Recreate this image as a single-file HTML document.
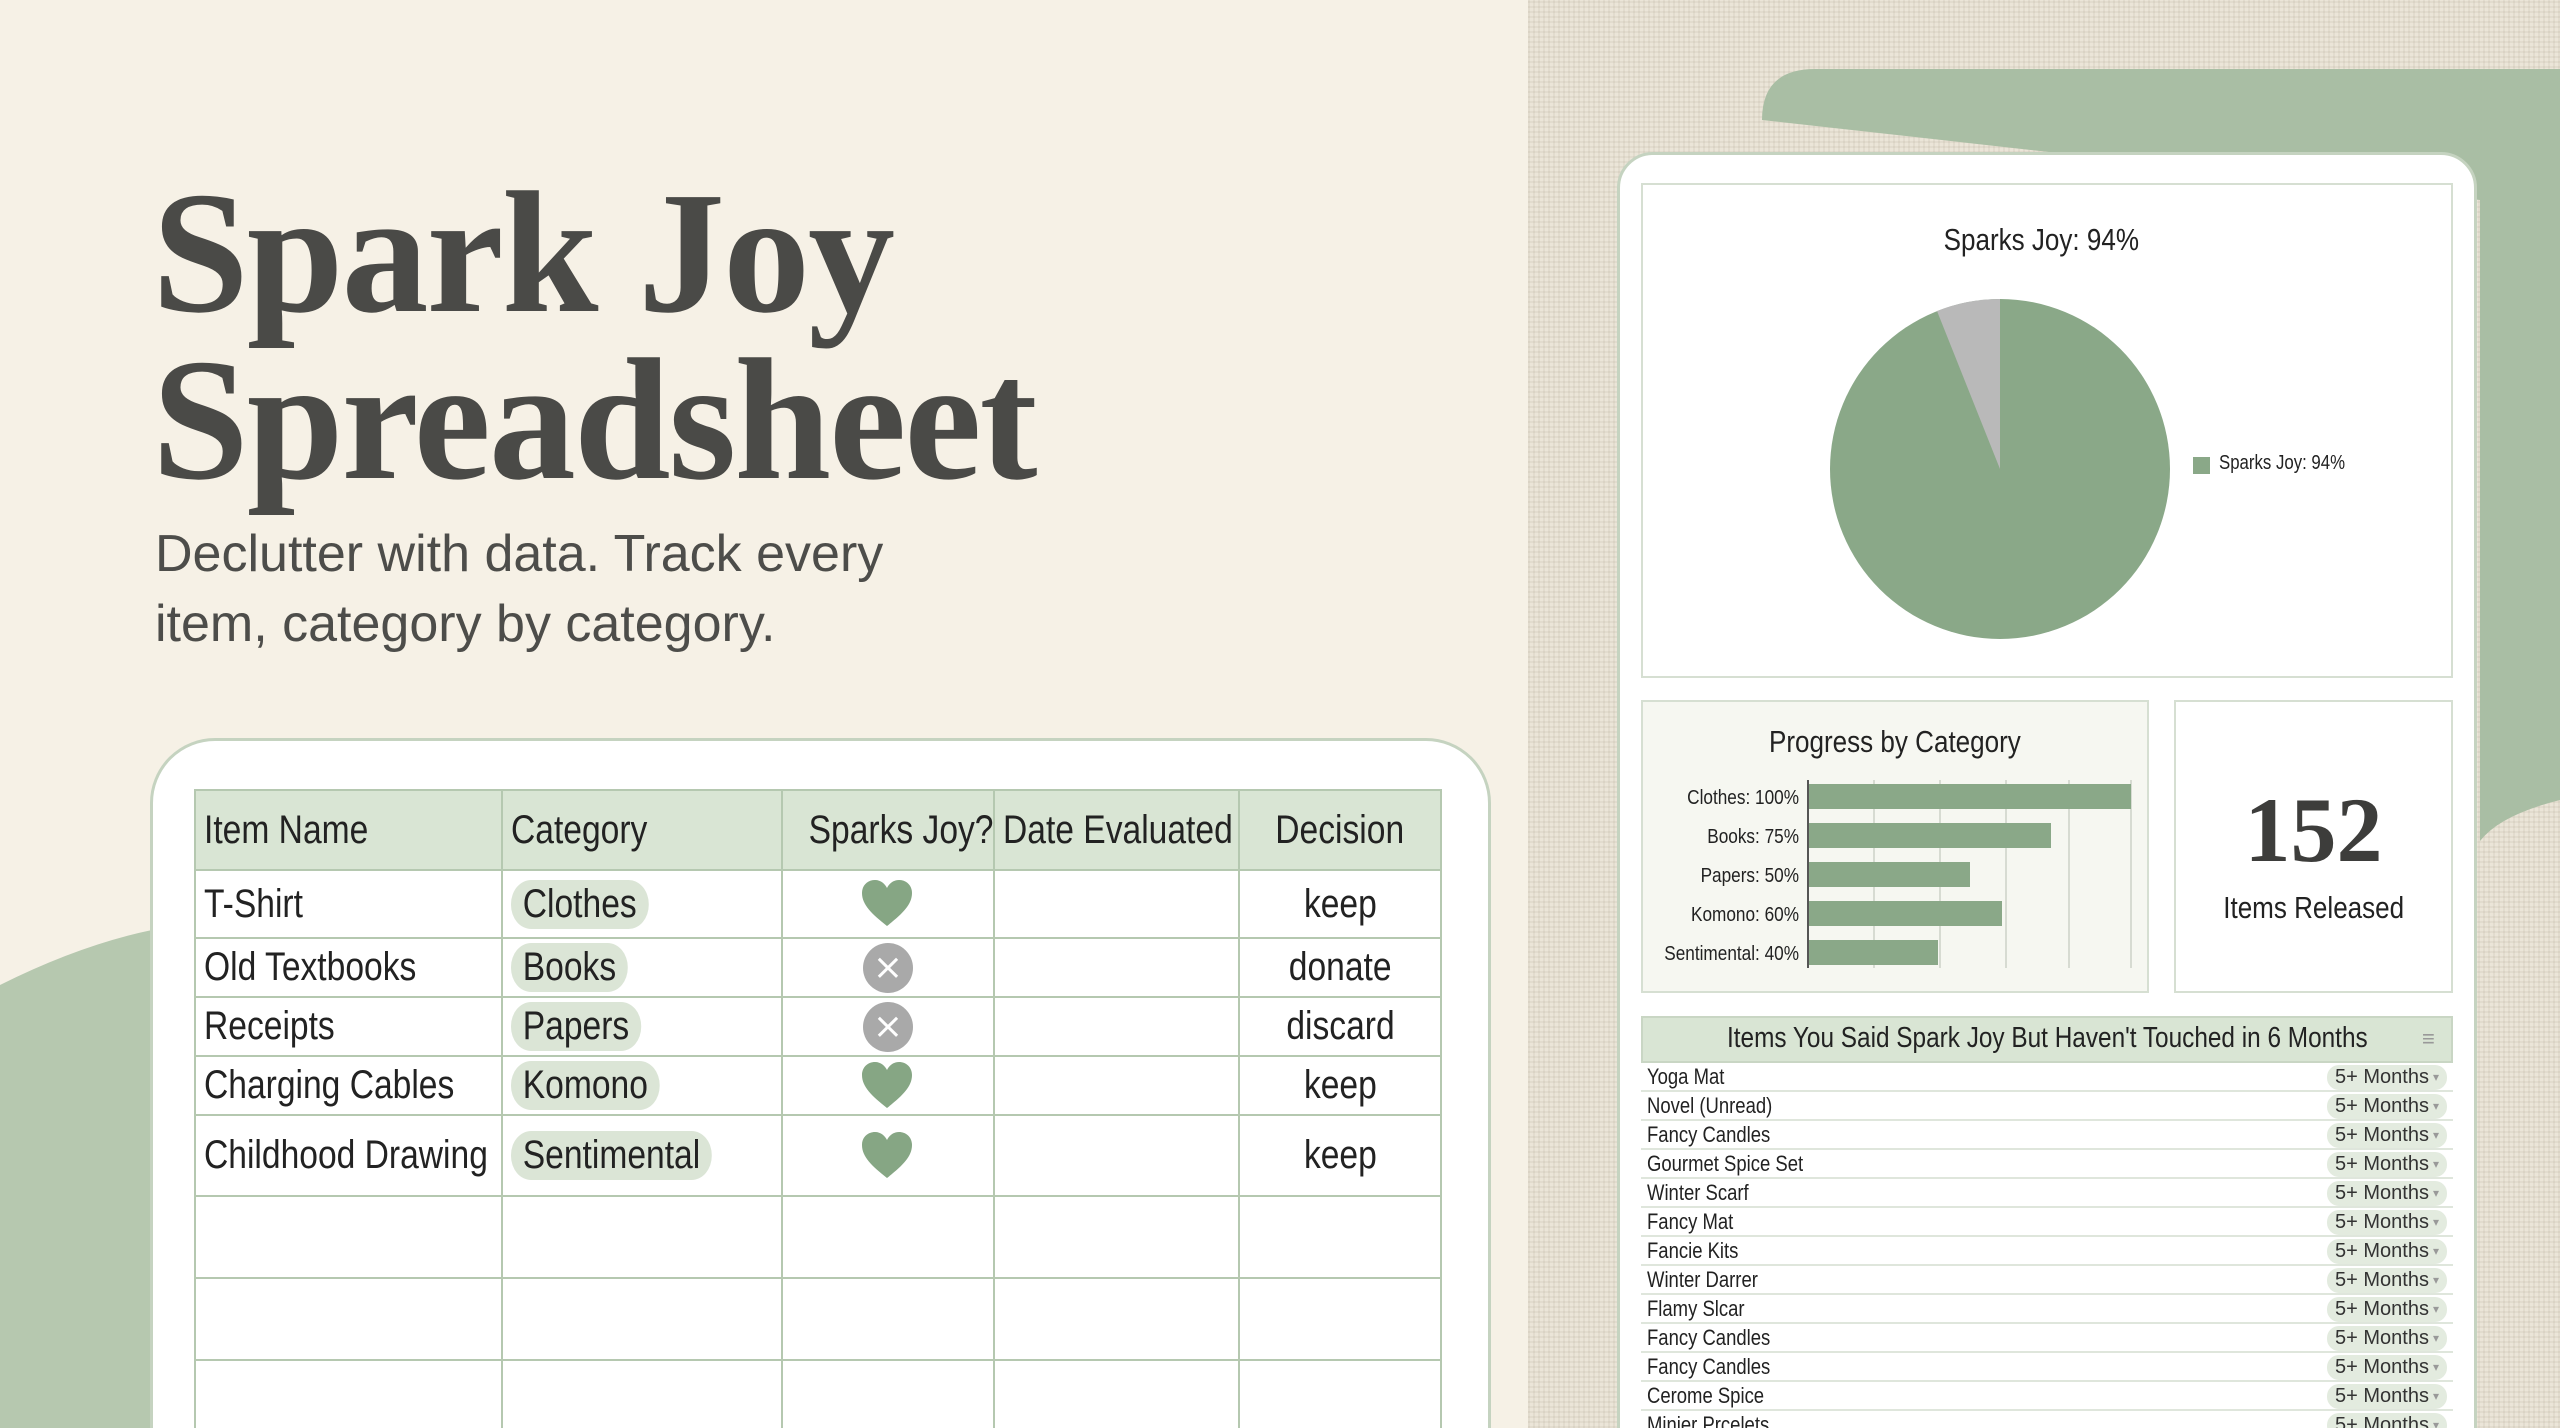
<!DOCTYPE html>
<html style="width:2560px;height:1428px;overflow:hidden"><head><meta charset="utf-8">
<style>
*{margin:0;padding:0;box-sizing:border-box}
body{width:2560px;height:1428px;overflow:hidden;position:relative;background:#f6f1e6;font-family:"Liberation Sans",sans-serif;color:#222}
.abs{position:absolute}
.n{display:inline-block;transform:scaleX(.84);transform-origin:left center;white-space:nowrap}
.nc{display:inline-block;transform:scaleX(.84);transform-origin:center center;white-space:nowrap}
.linen{left:1528px;top:0;width:1032px;height:1428px;background-color:#ebe5d8;background-image:repeating-linear-gradient(0deg,rgba(160,150,130,.12) 0 2px,transparent 2px 5px),repeating-linear-gradient(90deg,rgba(160,150,130,.12) 0 2px,transparent 2px 5px)}
.title{left:152px;font-family:"Liberation Serif",serif;font-weight:bold;color:#4a4a47;font-size:174px;line-height:1;letter-spacing:-2px;white-space:nowrap}
.sub{left:155px;font-family:"Liberation Sans",sans-serif;color:#4d4d4a;font-size:52px;white-space:nowrap}
.card{background:#fff;border:3px solid #c9d6c4}
table{border-collapse:collapse;position:absolute;left:194px;top:789px;width:1248px;font-size:40px;color:#222;table-layout:fixed}
td{border:2px solid #b5c8b0;padding:0 8px;vertical-align:middle;white-space:nowrap;overflow:hidden}
th{background:#d9e5d4;border:2px solid #b5c8b0;font-weight:normal;text-align:left;padding:0 8px;height:80px;white-space:nowrap}
.pill{display:inline-block;background:#dbe5d6;border-radius:24px;padding:2px 14px;transform:scaleX(.84);transform-origin:left center}
.c{text-align:center}
.x{display:inline-block;width:50px;height:50px;border-radius:50%;background:#a9a9a9;color:#fff;font-size:36px;line-height:50px;text-align:center;font-family:"DejaVu Sans",sans-serif;vertical-align:middle}
.row{position:absolute;left:1641px;width:812px;height:29px;border-bottom:2px solid #dfe6dc;font-size:22px;line-height:28px;padding-left:6px;background:#fff}
.tag{position:absolute;right:6px;top:2px;width:120px;height:25px;background:#e3ebdf;border-radius:12px;font-size:20px;line-height:25px;padding-left:8px;color:#333}
.tag:after{content:"▾";position:absolute;right:8px;font-size:12px;color:#999}
</style></head><body>
<div class="abs linen"></div>
<svg class="abs" style="left:0;top:0" width="2560" height="1428">
<path d="M1762 120 Q1762 69 1815 69 L2560 69 L2560 800 Q2500 815 2480 841 L2480 200 Z" fill="#a9bea4"/>
<path d="M0 985 Q80 945 152 930 L152 1428 L0 1428 Z" fill="#b6c8af"/>
</svg>
<div class="abs title" style="top:166px">Spark Joy</div>
<div class="abs title" style="top:333px">Spreadsheet</div>
<div class="abs sub" style="top:524px">Declutter with data. Track every</div>
<div class="abs sub" style="top:594px">item, category by category.</div>

<div class="abs card" style="left:150px;top:738px;width:1341px;height:760px;border-radius:65px;border-color:#c5d3c0"></div>
<svg width="0" height="0" style="position:absolute"><defs><path id="h" d="M25 46 C10 34 0 25 0 13 C0 5 6 0 13 0 C19 0 23 4 25 8 C27 4 31 0 37 0 C44 0 50 5 50 13 C50 25 40 34 25 46 Z" fill="#86a684"/></defs></svg>
<table>
<colgroup><col style="width:307px"><col style="width:280px"><col style="width:212px"><col style="width:245px"><col></colgroup>
<tr><th><span class="n">Item Name</span></th><th><span class="n">Category</span></th><th class="c" style="text-align:center"><span class="nc">Sparks Joy?</span></th><th><span class="n">Date Evaluated</span></th><th style="text-align:center"><span class="nc">Decision</span></th></tr>
<tr style="height:68px"><td><span class="n">T-Shirt</span></td><td><span class="pill">Clothes</span></td><td class="c"><svg width="52" height="48" style="vertical-align:middle"><use href="#h"/></svg></td><td></td><td class="c"><span class="nc">keep</span></td></tr>
<tr style="height:59px"><td><span class="n">Old Textbooks</span></td><td><span class="pill">Books</span></td><td class="c"><span class="x">×</span></td><td></td><td class="c"><span class="nc">donate</span></td></tr>
<tr style="height:59px"><td><span class="n">Receipts</span></td><td><span class="pill">Papers</span></td><td class="c"><span class="x">×</span></td><td></td><td class="c"><span class="nc">discard</span></td></tr>
<tr style="height:59px"><td><span class="n">Charging Cables</span></td><td><span class="pill">Komono</span></td><td class="c"><svg width="52" height="48" style="vertical-align:middle"><use href="#h"/></svg></td><td></td><td class="c"><span class="nc">keep</span></td></tr>
<tr style="height:81px"><td><span class="n">Childhood Drawing</span></td><td><span class="pill">Sentimental</span></td><td class="c"><svg width="52" height="48" style="vertical-align:middle"><use href="#h"/></svg></td><td></td><td class="c"><span class="nc">keep</span></td></tr>
<tr style="height:82px"><td></td><td></td><td></td><td></td><td></td></tr>
<tr style="height:82px"><td></td><td></td><td></td><td></td><td></td></tr>
<tr style="height:82px"><td></td><td></td><td></td><td></td><td></td></tr>
</table>

<div class="abs card" style="left:1617px;top:152px;width:860px;height:1320px;border-radius:36px;border-color:#c5d3c0"></div>
<div class="abs" style="left:1641px;top:183px;width:812px;height:495px;border:2px solid #d6dfd2;background:#fff"></div>
<div class="abs" style="left:1641px;top:222px;width:800px;text-align:center;font-size:31px"><span class="nc">Sparks Joy: 94%</span></div>
<svg class="abs" style="left:1820px;top:290px" width="360" height="360">
<circle cx="180" cy="179" r="170" fill="#8aa888"/>
<path d="M180 179 L180 9 A170 170 0 0 0 117 21 Z" fill="#b9b9b9"/>
</svg>
<div class="abs" style="left:2193px;top:457px;width:17px;height:17px;background:#8aa888"></div>
<div class="abs" style="left:2219px;top:452px;font-size:20px"><span class="n">Sparks Joy: 94%</span></div>

<div class="abs" style="left:1641px;top:700px;width:508px;height:293px;border:2px solid #d6dfd2;background:#f6f7f1"></div>
<div class="abs" style="left:1641px;top:724px;width:508px;text-align:center;font-size:31px"><span class="nc">Progress by Category</span></div>
<svg class="abs" style="left:1641px;top:700px" width="508" height="293">
<g stroke="#d7dbd2" stroke-width="2"><line x1="233" y1="80" x2="233" y2="268"/><line x1="299" y1="80" x2="299" y2="268"/><line x1="365" y1="80" x2="365" y2="268"/><line x1="428" y1="80" x2="428" y2="268"/><line x1="490" y1="80" x2="490" y2="268"/></g>
<g fill="#8aa888"><rect x="167" y="84" width="323" height="25"/><rect x="167" y="123" width="243" height="25"/><rect x="167" y="162" width="162" height="25"/><rect x="167" y="201" width="194" height="25"/><rect x="167" y="240" width="130" height="25"/></g>
<line x1="167" y1="80" x2="167" y2="268" stroke="#555" stroke-width="2"/>
<g font-family="Liberation Sans,sans-serif" font-size="20" text-anchor="end" fill="#222" transform="translate(158 0) scale(.86 1) translate(-158 0)">
<text x="158" y="104">Clothes: 100%</text><text x="158" y="143">Books: 75%</text><text x="158" y="182">Papers: 50%</text><text x="158" y="221">Komono: 60%</text><text x="158" y="260">Sentimental: 40%</text></g>
</svg>

<div class="abs" style="left:2174px;top:700px;width:279px;height:293px;border:2px solid #d6dfd2;background:#fff"></div>
<div class="abs" style="left:2174px;top:784px;width:279px;text-align:center;font-family:'Liberation Serif',serif;font-weight:bold;font-size:92px;color:#3d3d3b;line-height:1">152</div>
<div class="abs" style="left:2174px;top:890px;width:279px;text-align:center;font-size:31px"><span class="nc">Items Released</span></div>

<div class="abs" style="left:1641px;top:1016px;width:812px;height:47px;background:#d9e5d4;border:2px solid #c9d6c4"></div>
<div class="abs" style="left:1641px;top:1022px;width:812px;text-align:center;font-size:29px"><span class="nc">Items You Said Spark Joy But Haven't Touched in 6 Months</span></div>
<div class="abs" style="left:2422px;top:1026px;font-size:22px;color:#999">≡</div>
<div class="row" style="top:1063px"><span class="n">Yoga Mat</span><span class="tag">5+ Months</span></div>
<div class="row" style="top:1092px"><span class="n">Novel (Unread)</span><span class="tag">5+ Months</span></div>
<div class="row" style="top:1121px"><span class="n">Fancy Candles</span><span class="tag">5+ Months</span></div>
<div class="row" style="top:1150px"><span class="n">Gourmet Spice Set</span><span class="tag">5+ Months</span></div>
<div class="row" style="top:1179px"><span class="n">Winter Scarf</span><span class="tag">5+ Months</span></div>
<div class="row" style="top:1208px"><span class="n">Fancy Mat</span><span class="tag">5+ Months</span></div>
<div class="row" style="top:1237px"><span class="n">Fancie Kits</span><span class="tag">5+ Months</span></div>
<div class="row" style="top:1266px"><span class="n">Winter Darrer</span><span class="tag">5+ Months</span></div>
<div class="row" style="top:1295px"><span class="n">Flamy Slcar</span><span class="tag">5+ Months</span></div>
<div class="row" style="top:1324px"><span class="n">Fancy Candles</span><span class="tag">5+ Months</span></div>
<div class="row" style="top:1353px"><span class="n">Fancy Candles</span><span class="tag">5+ Months</span></div>
<div class="row" style="top:1382px"><span class="n">Cerome Spice</span><span class="tag">5+ Months</span></div>
<div class="row" style="top:1411px"><span class="n">Minier Prcelets</span><span class="tag">5+ Months</span></div>
</body></html>
